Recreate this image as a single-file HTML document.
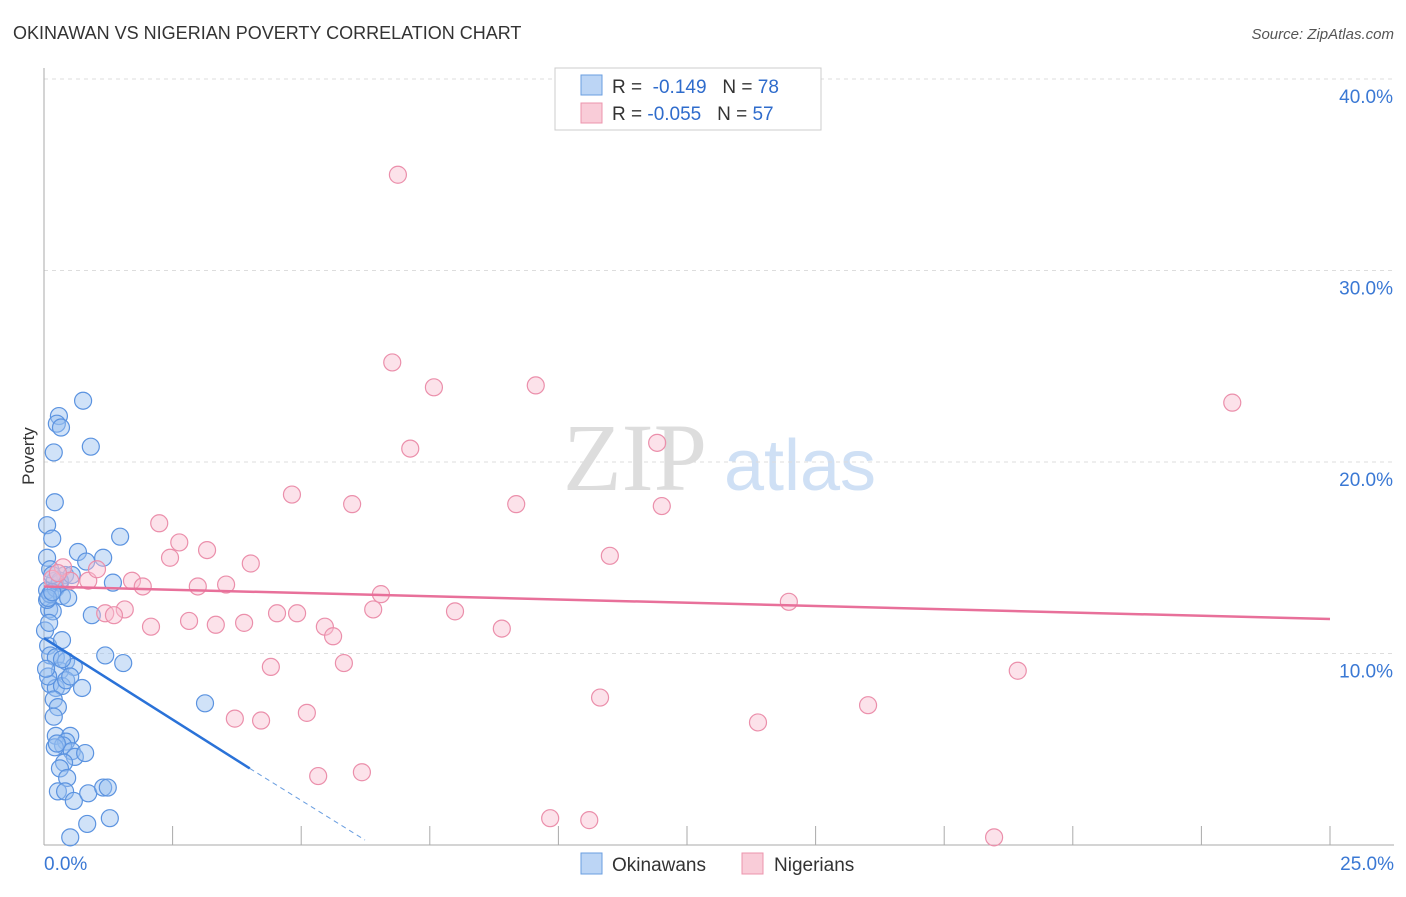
<!DOCTYPE html><html><head><meta charset="utf-8"><style>
body{margin:0;background:#fff;font-family:"Liberation Sans",sans-serif}
</style></head><body>
<svg id="c" width="1406" height="892" xmlns="http://www.w3.org/2000/svg">
<text x="13" y="39" font-size="18" fill="#333">OKINAWAN VS NIGERIAN POVERTY CORRELATION CHART</text>
<text x="1394" y="39" font-size="15" fill="#555" font-style="italic" text-anchor="end">Source: ZipAtlas.com</text>
<text x="635" y="490" font-size="96" fill="#ddd" font-family="Liberation Serif" text-anchor="middle">ZIP</text>
<text x="800" y="490" font-size="72" fill="#cfe0f5" text-anchor="middle">atlas</text>
<g id="grid"></g><g id="pts"></g><g id="lines"></g>
<text x="34" y="456" font-size="17" fill="#333" transform="rotate(-90 34 456)" text-anchor="middle">Poverty</text>
<g>
<rect x="555" y="68" width="266" height="62" fill="#fff" stroke="#ccc"/>
<rect x="581" y="75" width="21" height="20" fill="#bcd5f5" stroke="#6a9ee0"/>
<rect x="581" y="103" width="21" height="20" fill="#f9ccd8" stroke="#ec94ad"/>
<text x="612" y="93" font-size="19" fill="#333">R = <tspan fill="#2f6ccc">&#160;-0.149</tspan>&#160;&#160;&#160;N = <tspan fill="#2f6ccc">78</tspan></text>
<text x="612" y="120" font-size="19" fill="#333">R = <tspan fill="#2f6ccc">-0.055</tspan>&#160;&#160;&#160;N = <tspan fill="#2f6ccc">57</tspan></text>
</g>
<g>
<rect x="581" y="853" width="21" height="21" fill="#bcd5f5" stroke="#6a9ee0"/>
<text x="612" y="871" font-size="19" fill="#333">Okinawans</text>
<rect x="742" y="853" width="21" height="21" fill="#f9ccd8" stroke="#ec94ad"/>
<text x="774" y="871" font-size="19" fill="#333">Nigerians</text>
</g>
</svg>
<script>
const xTicks=[0,2.5,5,7.5,10,12.5,15,17.5,20,22.5,25];
const yTicks=[10,20,30,40];
const blueX=[0.76,0.29,0.25,0.33,0.91,0.19,0.21,0.06,0.16,0.66,1.48,1.15,0.82,0.06,1.34,0.93,0.10,1.19,1.54,3.13,0.08,0.35,0.12,0.23,0.31,0.43,0.58,0.12,0.23,0.35,0.43,0.51,0.74,0.19,0.27,0.19,0.08,0.17,0.06,0.06,0.12,0.23,0.31,0.41,0.21,0.12,0.23,0.51,0.43,0.37,0.54,0.60,0.80,0.21,0.39,0.31,0.45,0.27,0.41,0.58,0.86,1.15,1.24,1.28,0.84,0.51,0.31,0.35,0.47,0.54,0.02,0.08,0.16,0.25,0.16,0.04,0.35,0.10];
const blueY=[23.2,22.4,22.0,21.8,20.8,20.5,17.9,16.7,16.0,15.3,16.1,15.0,14.8,15.0,13.7,12.0,12.3,9.9,9.5,7.4,10.4,10.7,9.9,9.8,9.1,9.6,9.3,8.4,8.2,8.3,8.6,8.8,8.2,7.6,7.2,6.7,8.8,12.2,12.8,13.3,13.1,13.4,13.7,14.1,13.8,14.4,5.7,5.7,5.4,5.2,4.9,4.6,4.8,5.1,4.3,4.0,3.5,2.8,2.8,2.3,2.7,3.0,3.0,1.4,1.1,0.4,13.8,13.0,12.9,14.1,11.2,12.9,14.1,5.3,13.2,9.2,9.7,11.6];
const pinkX=[6.88,6.77,7.58,9.56,23.1,7.12,11.92,4.82,5.99,9.18,12.01,2.24,2.63,3.17,2.45,4.02,11.0,0.37,0.51,0.86,1.03,1.71,1.92,2.99,3.54,6.55,14.48,1.57,1.19,1.36,4.53,4.92,6.40,7.99,2.08,2.82,3.34,3.89,5.46,5.62,8.90,4.41,5.83,18.93,10.81,5.11,3.71,4.22,13.88,16.02,5.33,6.18,9.84,10.6,18.47,0.16,0.27];
const pinkY=[35.0,25.2,23.9,24.0,23.1,20.7,21.0,18.3,17.8,17.8,17.7,16.8,15.8,15.4,15.0,14.7,15.1,14.5,13.8,13.8,14.4,13.8,13.5,13.5,13.6,13.1,12.7,12.3,12.1,12.0,12.1,12.1,12.3,12.2,11.4,11.7,11.5,11.6,11.4,10.9,11.3,9.3,9.5,9.1,7.7,6.9,6.6,6.5,6.4,7.3,3.6,3.8,1.4,1.3,0.4,13.9,14.2];
const blueTrend=[[0,10.8],[4.0,4.0]];
const blueDash=[[4.0,4.0],[6.24,0.26]];
const pinkTrend=[[0,13.5],[25,11.8]];
const X=v=>44+v/25*1286, Y=v=>845-v*19.15;
const NS='http://www.w3.org/2000/svg';
function mk(p,t,a){const e=document.createElementNS(NS,t);for(const k in a)e.setAttribute(k,a[k]);p.appendChild(e);return e;}
const g=document.getElementById('grid');
yTicks.forEach(t=>{const l=mk(g,'line',{x1:44,x2:1394,y1:Y(t),y2:Y(t),stroke:'#ddd','stroke-dasharray':'4 4'});


const tx=mk(g,'text',{x:1393,y:Y(t)+24,'font-size':19,fill:'#3a78d4','text-anchor':'end'});tx.textContent=t.toFixed(1)+'%';

});
mk(g,'line',{x1:44,x2:44,y1:68,y2:845,stroke:'#aaa'});
mk(g,'line',{x1:44,x2:1394,y1:845,y2:845,stroke:'#aaa'});
xTicks.forEach((t,i)=>{if(i>0){const l=mk(g,'line',{x1:X(t),x2:X(t),y1:826,y2:845,stroke:'#aaa'});

}});
[[0,'start'],[25,'end']].forEach(([t,a])=>{const tx=mk(g,'text',{x:t==0?44:1394,y:870,'font-size':19,fill:'#3a78d4','text-anchor':a});tx.textContent=t.toFixed(1)+'%';

});
const p=document.getElementById('pts');
blueX.forEach((x,i)=>{const c=mk(p,'circle',{cx:X(x),cy:Y(blueY[i]),r:8.5,fill:'rgba(150,190,240,0.45)',stroke:'#5b93e0','stroke-width':1.2});

});
pinkX.forEach((x,i)=>{const c=mk(p,'circle',{cx:X(x),cy:Y(pinkY[i]),r:8.5,fill:'rgba(248,190,208,0.45)',stroke:'#eb8fab','stroke-width':1.2});

});
const L=document.getElementById('lines');
let e=mk(L,'line',{x1:X(blueTrend[0][0]),y1:Y(blueTrend[0][1]),x2:X(blueTrend[1][0]),y2:Y(blueTrend[1][1]),stroke:'#2a72d8','stroke-width':2.5});


e=mk(L,'line',{x1:X(blueDash[0][0]),y1:Y(blueDash[0][1]),x2:X(blueDash[1][0]),y2:Y(blueDash[1][1]),stroke:'#6a9ee0','stroke-width':1,'stroke-dasharray':'5 4'});


e=mk(L,'line',{x1:X(pinkTrend[0][0]),y1:Y(pinkTrend[0][1]),x2:X(pinkTrend[1][0]),y2:Y(pinkTrend[1][1]),stroke:'#e8709a','stroke-width':2.5});


</script></body></html>
